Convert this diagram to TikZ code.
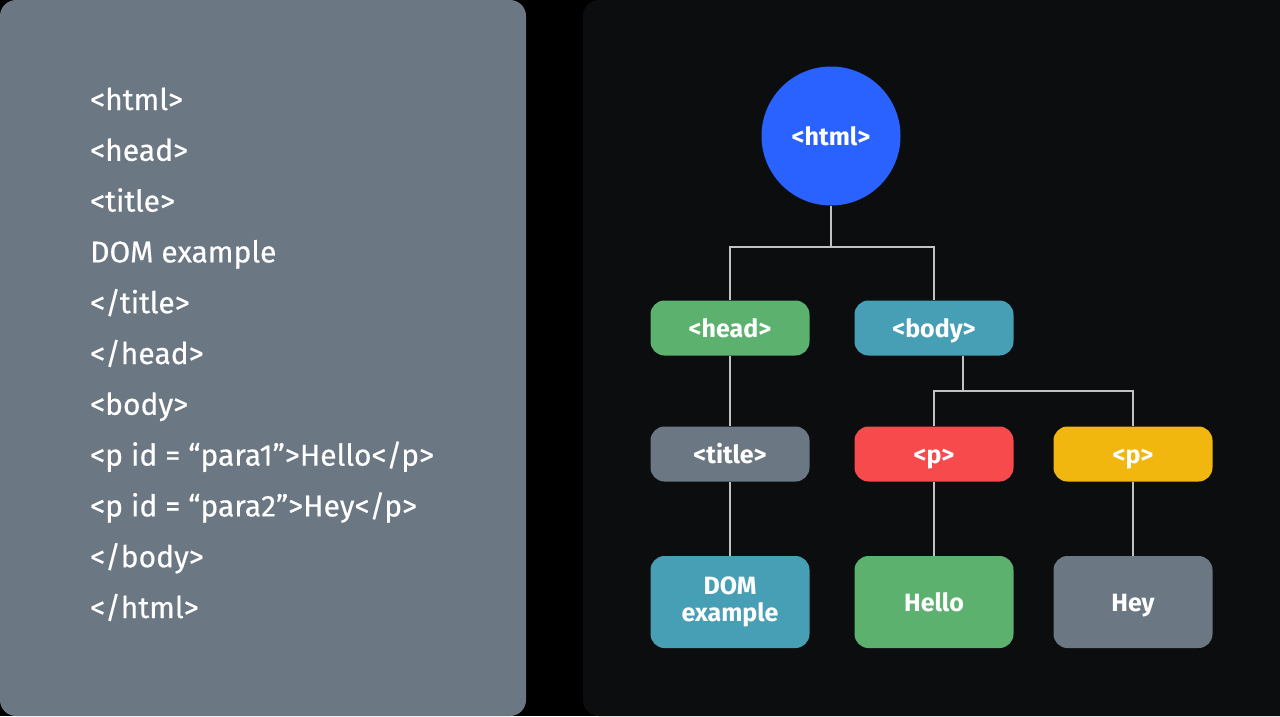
\documentclass[tikz,border=0pt]{standalone}
\usepackage{fontspec}
\setmainfont{Fira Sans}
\usetikzlibrary{positioning}

\definecolor{panelgray}{HTML}{6B7782}
\definecolor{paneldark}{HTML}{0C0D0F}
\definecolor{htmlblue}{HTML}{2962FF}
\definecolor{tagGreen}{HTML}{5BB16D}
\definecolor{tagTeal}{HTML}{479FB5}
\definecolor{tagRed}{HTML}{F74A4D}
\definecolor{tagYellow}{HTML}{F2B70E}
\definecolor{linkgray}{HTML}{C2C2C2}

\begin{document}
\begin{tikzpicture}[x=1pt, y=-1pt,
    box/.style={rectangle, rounded corners=14pt, minimum width=159pt, minimum height=55pt,
        inner sep=0pt, text=white, font=\bfseries\fontsize{25}{27}\selectfont},
    tag/.style={box, text height=18pt, text depth=0pt},
    leaf/.style={tag, minimum height=92pt},
    link/.style={draw=linkgray, line width=2.4pt},
    code/.style={anchor=base west, inner sep=0pt, text=white,
        font=\fontsize{30}{34}\selectfont\addfontfeatures{FakeBold=0.4}}]

    \useasboundingbox (0,0) rectangle (1280,716);

    % background and the two panels
    \fill[black] (0,0) rectangle (1280,716);
    \fill[panelgray, rounded corners=16pt] (0,0) rectangle (526,716);
    \fill[paneldark, rounded corners=16pt] (583,0) rectangle (1300,716);

    % the html source
    \foreach \src [count=\i from 0] in {<html>, <head>, <title>, DOM example, </title>, </head>,
        <body>, <p id = “para1”>Hello</p>, <p id = “para2”>Hey</p>, </body>, </html>}
    \node[code] (src\i) at (90, 110+50.8*\i) {\src};

    % the DOM tree
    \node[circle, fill=htmlblue, minimum size=139pt, inner sep=0pt, text=white,
        font=\bfseries\fontsize{25}{27}\selectfont] (html) at (831,136) {<html>};

    \node[tag, fill=tagGreen] (head) at (730,328) {<head>};
    \node[tag, fill=tagTeal] (body) at (934,328) {<body>};

    \node[tag, fill=panelgray] (title) at (730,454) {<title>};
    \node[tag, fill=tagRed] (pone) at (934,454) {<p>};
    \node[tag, fill=tagYellow] (ptwo) at (1133,454) {<p>};

    \node[box, minimum height=92pt, align=center, fill=tagTeal] (dom) at (730,602) {DOM\\example};
    \node[leaf, fill=tagGreen] (hello) at (934,602) {Hello};
    \node[leaf, fill=panelgray] (hey) at (1133,602) {Hey};

    % Draw the links
    \draw[link] (html.south) -- ++(0,41) coordinate (htmlfork);
    \draw[link] (head.north) |- (htmlfork) -| (body.north);
    \draw[link] ([xshift=29pt]body.south) -- ++(0,35) coordinate (bodyfork);
    \draw[link] (pone.north) |- (bodyfork) -| (ptwo.north);

    \draw[link] (head) -- (title);
    \draw[link] (title) -- (dom);
    \draw[link] (pone) -- (hello);
    \draw[link] (ptwo) -- (hey);

\end{tikzpicture}
\end{document}
